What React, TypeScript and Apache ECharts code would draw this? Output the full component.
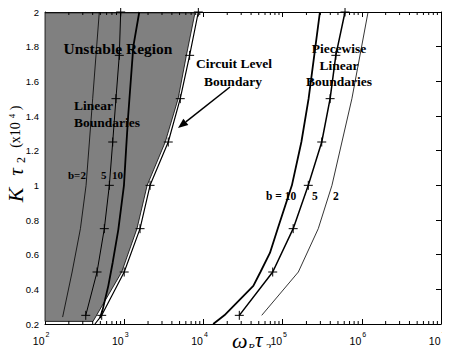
import React, { useEffect, useRef } from "react";
import * as echarts from "echarts";

// ---- data ----
const xTickExponents = [2, 3, 4, 5, 6, 7];

// gray "unstable region" outline
const grayX = [100, 404, 930, 1450, 1950, 3300, 4800, 6100, 7830, 100];
const grayK = [0.215, 0.215, 0.5, 0.75, 1.0, 1.25, 1.5, 1.75, 1.995, 1.995];

// circuit level boundary
const circuitX = [427, 520, 1000, 1585, 2120, 3600, 5100, 6700, 8630];
const circuitK = [0.2, 0.25, 0.5, 0.75, 1.0, 1.25, 1.5, 1.75, 2.0];

// linear boundaries (left)
const linB2X = [167, 220, 280, 330, 400, 485];
const linB2K = [0.24, 0.5, 0.75, 1.0, 1.5, 2.0];
const linB5X = [327, 454, 561, 649, 716, 787, 867, 903];
const linB5K = [0.25, 0.5, 0.75, 1.0, 1.25, 1.5, 1.75, 2.0];
const linB10X = [494, 535, 630, 716, 843, 993, 1054, 1122, 1303, 1550];
const linB10K = [0.235, 0.283, 0.42, 0.555, 0.745, 1.0, 1.2, 1.4, 1.8, 2.0];

// piecewise linear boundaries (right)
const pwB10X = [13300, 18400, 42700, 52500, 69200, 86700, 131000, 172600, 213000, 251000, 296000];
const pwB10K = [0.2, 0.25, 0.42, 0.5, 0.61, 0.75, 1.0, 1.25, 1.5, 1.75, 2.0];
const pwB5X = [28400, 75000, 136000, 211000, 312000, 398000, 470000, 614000];
const pwB5K = [0.25, 0.5, 0.75, 1.0, 1.25, 1.5, 1.75, 2.0];
const pwB2X = [54500, 158000, 282000, 420000, 750000, 1200000];
const pwB2K = [0.25, 0.5, 0.75, 1.0, 1.5, 2.0];

// minor log ticks
const minorMultipliers = [2, 3, 4, 5, 6, 7, 8, 9];
const minorDecades = [2, 3, 4, 5, 6];

const serif = '"Liberation Serif", "Times New Roman", serif';
const sans = '"Liberation Sans", Arial, sans-serif';
const plusPath = "path://M0,5L10,5M5,0L5,10";

function lineSeries(xs: number[], ks: number[], width: number, marks: boolean | ((i: number) => boolean)) {
  return {
    type: "line",
    data: xs.map((x, i) => {
      const m = typeof marks === "function" ? marks(i) : marks;
      return { value: [x, ks[i]], symbol: m ? plusPath : "none" };
    }),
    symbolSize: 9,
    showAllSymbol: true,
    lineStyle: { color: "#000", width },
    itemStyle: { color: "#000", borderColor: "#000", borderWidth: 1 },
    silent: true,
    z: 5,
    clip: true,
  };
}

export default function App() {
  const ref = useRef<HTMLDivElement>(null);
  useEffect(() => {
    if (!ref.current) return;
    const chart = echarts.init(ref.current, null, { renderer: "svg" });
    const minorTicks: number[][] = [];
    minorDecades.forEach((d) => minorMultipliers.forEach((m) => minorTicks.push([m * Math.pow(10, d), 0.2])));

    const txt = (text: string, x: number, y: number, font: string, align = "left", rotation = 0) => ({
      type: "text",
      x,
      y,
      z: 20,
      rotation,
      style: { text, fill: "#000", font, align, verticalAlign: "middle" },
    });
    const bold = (text: string, x: number, y: number, size: number, align = "left") =>
      txt(text, x, y, `bold ${size}px ${serif}`, align);

    const arrowTip = [178, 128];
    const arrowTail = [230, 87];
    const dx = arrowTip[0] - arrowTail[0];
    const dy = arrowTip[1] - arrowTail[1];
    const len = Math.sqrt(dx * dx + dy * dy);
    const ux = dx / len, uy = dy / len;
    const hl = 10, hw = 4;
    const bx = arrowTip[0] - ux * hl, by = arrowTip[1] - uy * hl;

    const xAxisCommon = {
      type: "log",
      logBase: 10,
      min: 100,
      max: 1e7,
      splitLine: { show: false },
      axisLabel: { show: false },
      axisLine: { lineStyle: { color: "#000", width: 1 } },
      axisTick: { inside: true, length: 5, lineStyle: { color: "#000", width: 1 } },
    };
    const yAxisCommon = {
      type: "value",
      min: 0.2,
      max: 2,
      interval: 0.2,
      splitLine: { show: false },
      axisLine: { show: true, lineStyle: { color: "#000", width: 1 } },
      axisTick: { show: true, inside: true, length: 5, lineStyle: { color: "#000", width: 1 } },
    };
    const PI2 = Math.PI / 2;

    chart.setOption({
      animation: false,
      grid: { left: 45, right: 9, top: 12, bottom: 32 },
      xAxis: [
        { ...xAxisCommon, position: "bottom" },
        { ...xAxisCommon, position: "top" },
      ],
      yAxis: [
        {
          ...yAxisCommon,
          position: "left",
          axisLabel: {
            margin: 6,
            fontFamily: sans,
            fontSize: 9.5,
            color: "#000",
            formatter: (v: number) => parseFloat(v.toFixed(1)).toString(),
          },
        },
        { ...yAxisCommon, position: "right", axisLabel: { show: false } },
      ],
      series: [
        {
          type: "custom",
          coordinateSystem: "cartesian2d",
          data: [[100, 0.2]],
          silent: true,
          z: 1,
          clip: false,
          renderItem: (_p: any, api: any) => ({
            type: "polygon",
            shape: { points: grayX.map((x, i) => api.coord([x, grayK[i]])) },
            style: { fill: "#808080", stroke: "#000", lineWidth: 0.8 },
          }),
        },
        {
          type: "custom",
          coordinateSystem: "cartesian2d",
          data: minorTicks,
          silent: true,
          z: 2,
          clip: false,
          renderItem: (_p: any, api: any) => {
            const b = api.coord([api.value(0), 0.2]);
            const t = api.coord([api.value(0), 2]);
            return {
              type: "group",
              children: [
                { type: "line", shape: { x1: b[0], y1: b[1], x2: b[0], y2: b[1] - 3 }, style: { stroke: "#000", lineWidth: 1 } },
                { type: "line", shape: { x1: t[0], y1: t[1], x2: t[0], y2: t[1] + 3 }, style: { stroke: "#000", lineWidth: 1 } },
              ],
            };
          },
        },
        {
          // x tick labels 10^n
          type: "custom",
          coordinateSystem: "cartesian2d",
          data: xTickExponents.map((e) => [Math.pow(10, e), 0.2, e]),
          silent: true,
          z: 2,
          clip: false,
          renderItem: (_p: any, api: any) => {
            const p = api.coord([api.value(0), 0.2]);
            return {
              type: "group",
              children: [
                {
                  type: "text",
                  x: p[0] - 0.5,
                  y: p[1] + 17,
                  style: { text: "10", font: `10.5px ${sans}`, fill: "#000", align: "right", verticalAlign: "middle" },
                },
                {
                  type: "text",
                  x: p[0] + 0.5,
                  y: p[1] + 10,
                  style: { text: String(api.value(2)), font: `7px ${sans}`, fill: "#000", align: "left", verticalAlign: "middle" },
                },
              ],
            };
          },
        },
        lineSeries(circuitX, circuitK, 1.2, (i) => i > 0),
        lineSeries(linB2X, linB2K, 0.8, false),
        lineSeries(linB5X, linB5K, 1, true),
        lineSeries(linB10X, linB10K, 1.8, false),
        lineSeries(pwB10X, pwB10K, 1.8, false),
        lineSeries(pwB5X, pwB5K, 1.5, true),
        lineSeries(pwB2X, pwB2K, 0.8, false),
      ],
      graphic: [
        bold("Unstable Region", 118, 48, 15.5, "center"),
        bold("Linear", 74, 105, 13.5),
        bold("Boundaries", 74, 122, 13.5),
        bold("Circuit Level", 234, 63, 13.5, "center"),
        bold("Boundary", 233, 81, 13.5, "center"),
        bold("Piecewise", 339, 48, 13.5, "center"),
        bold("Linear", 339, 65, 13.5, "center"),
        bold("Boundaries", 339, 81, 13.5, "center"),
        bold("b=2", 68, 175, 11),
        bold("5", 101, 175, 11),
        bold("10", 112, 175, 11),
        bold("b = 10", 266, 196, 11.5),
        bold("5", 312, 196, 11.5),
        bold("2", 333, 196, 11.5),
        {
          type: "line",
          z: 20,
          shape: { x1: arrowTail[0], y1: arrowTail[1], x2: bx, y2: by },
          style: { stroke: "#000", lineWidth: 1.5 },
        },
        {
          type: "polygon",
          z: 20,
          shape: {
            points: [arrowTip, [bx - uy * hw, by + ux * hw], [bx + uy * hw, by - ux * hw]],
          },
          style: { fill: "#000" },
        },
        // x axis title: omega_R tau_2
        txt("ω", 232, 340, `italic 22px ${serif}`),
        txt("R", 248, 347, `italic 11px ${serif}`),
        txt("τ", 255, 340, `italic 21px ${serif}`),
        txt("2", 266, 347, `11px ${serif}`),
        // y axis title: K tau_2 (x10^4), rotated
        txt("K", 15.5, 195, `italic 22px ${serif}`, "center", PI2),
        txt("τ", 15.5, 172, `italic 21px ${serif}`, "center", PI2),
        txt("2", 21, 160, `12px ${serif}`, "center", PI2),
        txt("(x10", 15.5, 135, `14px ${serif}`, "center", PI2),
        txt("4", 11.5, 116, `9px ${serif}`, "center", PI2),
        txt(")", 15.5, 108, `14px ${serif}`, "center", PI2),
      ],
    });
    return () => chart.dispose();
  }, []);
  return <div ref={ref} style={{ width: 450, height: 356, margin: -8 }} />;
}
